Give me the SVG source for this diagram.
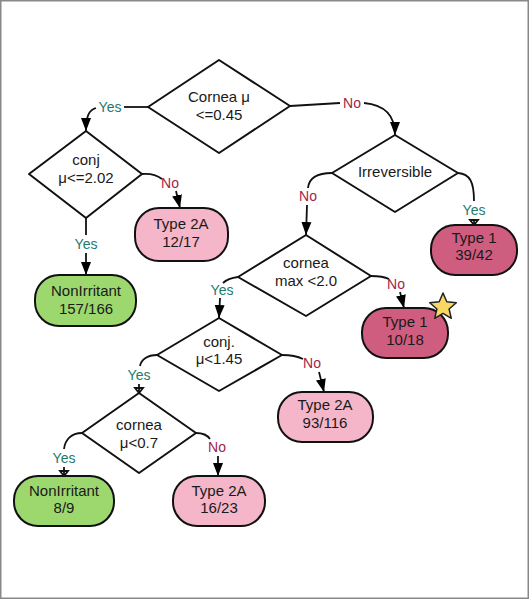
<svg xmlns="http://www.w3.org/2000/svg" width="530" height="600" viewBox="0 0 530 600">
<defs>
<marker id="arr" markerUnits="userSpaceOnUse" markerWidth="14" markerHeight="14" viewBox="0 0 14 14" refX="13" refY="7" orient="auto">
<path d="M0,2 L13,7 L0,12 Z" fill="#000"/>
</marker>
</defs>
<style>
.d{fill:#fff;stroke:#111;stroke-width:2;stroke-linejoin:round}
.b{stroke:#111;stroke-width:2}
.g{fill:#9dd86f}
.p{fill:#f4b6c8}
.r{fill:#cf5d7f}
.t{font-family:"Liberation Sans",Arial,sans-serif;font-size:15px;fill:#1a1a1a;text-anchor:middle;dominant-baseline:central}
.c path{fill:none;stroke:#111;stroke-width:1.8}
.y{font-family:"Liberation Sans",Arial,sans-serif;font-size:14px;fill:#1e7b6b;text-anchor:middle;dominant-baseline:central}
.n{font-family:"Liberation Sans",Arial,sans-serif;font-size:14px;fill:#a3234a;text-anchor:middle;dominant-baseline:central}
</style>
<rect x="0.75" y="0.75" width="527.5" height="597.5" fill="#fff" stroke="#888" stroke-width="1.5"/>
<g class="c" id="connectors">
<path d="M148,107 L124,107"/>
<path d="M96,108 C89,110 86,116 86,131" marker-end="url(#arr)"/>
<path d="M290,106 L340,103"/>
<path d="M364,103 C385,105 395,115 395,135" marker-end="url(#arr)"/>
<path d="M142,174 C152,173 158,176 162,179"/>
<path d="M176,191 L180,208" marker-end="url(#arr)"/>
<path d="M86,218 L86,235"/>
<path d="M86,253 L86,275" marker-end="url(#arr)"/>
<path d="M332,173 C318,173 309,178 308,188"/>
<path d="M307,205 L306,235" marker-end="url(#arr)"/>
<path d="M458,173 C470,174 474,182 474,201"/>
<path d="M474,219 L474,225"/>
<path d="M238,277 C230,278 225,281 223,283"/>
<path d="M220,298 L219,318" marker-end="url(#arr)"/>
<path d="M371,276 C380,276 385,277 389,279"/>
<path d="M400,292 L404,308" marker-end="url(#arr)"/>
<path d="M157,355 C147,355 141,360 140,366"/>
<path d="M139,384 L139,393"/>
<path d="M282,355 C293,355 299,357 303,359"/>
<path d="M319,372 L324,392" marker-end="url(#arr)"/>
<path d="M82,433 C71,433 65,440 64,449"/>
<path d="M64,467 L64,476"/>
<path d="M196,433 C204,433 208,436 210,439"/>
<path d="M218,456 L218,476" marker-end="url(#arr)"/>
<path d="M470,220 L478,220 L474,225 Z" fill="#000" stroke="none"/>
<path d="M135,388 L143,388 L139,393 Z" fill="#000" stroke="none"/>
<path d="M60,471 L68,471 L64,476 Z" fill="#000" stroke="none"/>
<text class="y" x="110" y="107">Yes</text>
<text class="n" x="352" y="103">No</text>
<text class="n" x="170" y="183">No</text>
<text class="y" x="86" y="244">Yes</text>
<text class="n" x="308" y="196">No</text>
<text class="y" x="474" y="210">Yes</text>
<text class="y" x="222" y="290">Yes</text>
<text class="n" x="396" y="284">No</text>
<text class="y" x="139" y="375">Yes</text>
<text class="n" x="312" y="363">No</text>
<text class="y" x="64" y="458">Yes</text>
<text class="n" x="217" y="447">No</text>
</g>
<g id="root">
<path class="d" d="M219,60 L290,106 L219,153 L148,107 Z"/>
<text class="t" x="219" y="96">Cornea μ</text>
<text class="t" x="219" y="114">&lt;=0.45</text>
</g>
<g id="conj1">
<path class="d" d="M86,131 L142,174 L86,218 L29,174 Z"/>
<text class="t" x="86" y="159">conj</text>
<text class="t" x="86" y="177">μ&lt;=2.02</text>
</g>
<g id="type2a-1">
<rect class="b p" x="135" y="208" width="93" height="53" rx="24"/>
<text class="t" x="181" y="223">Type 2A</text>
<text class="t" x="181" y="241">12/17</text>
</g>
<g id="nonirritant-1">
<rect class="b g" x="35" y="275" width="101" height="51" rx="24"/>
<text class="t" x="86" y="290">NonIrritant</text>
<text class="t" x="86" y="308">157/166</text>
</g>
<g id="irreversible">
<path class="d" d="M395,135 L458,173 L395,212 L332,173 Z"/>
<text class="t" x="395" y="171">Irreversible</text>
</g>
<g id="type1-1">
<rect class="b r" x="431" y="225" width="86" height="50" rx="24"/>
<text class="t" x="474" y="237">Type 1</text>
<text class="t" x="474" y="254">39/42</text>
</g>
<g id="cornea-max">
<path class="d" d="M306,235 L371,276 L306,316 L238,277 Z"/>
<text class="t" x="306" y="262">cornea</text>
<text class="t" x="306" y="280">max &lt;2.0</text>
</g>
<g id="type1-2">
<rect class="b r" x="362" y="308" width="86" height="50" rx="24"/>
<text class="t" x="405" y="321">Type 1</text>
<text class="t" x="405" y="339">10/18</text>
<path d="M443,293 L446.8,301.8 L456.3,302.7 L449.1,309 L451.3,318.3 L443,313.4 L434.7,318.3 L436.9,309 L429.7,302.7 L439.2,301.8 Z" fill="#f8d762" stroke="#222" stroke-width="1.5" stroke-linejoin="round"/>
</g>
<g id="conj2">
<path class="d" d="M219,318 L282,355 L219,391 L157,355 Z"/>
<text class="t" x="219" y="341">conj.</text>
<text class="t" x="219" y="358">μ&lt;1.45</text>
</g>
<g id="type2a-2">
<rect class="b p" x="278" y="392" width="95" height="50" rx="24"/>
<text class="t" x="325" y="404">Type 2A</text>
<text class="t" x="325" y="422">93/116</text>
</g>
<g id="cornea-mu">
<path class="d" d="M139,393 L196,433 L139,473 L82,433 Z"/>
<text class="t" x="139" y="424">cornea</text>
<text class="t" x="139" y="442">μ&lt;0.7</text>
</g>
<g id="nonirritant-2">
<rect class="b g" x="14" y="476" width="100" height="50" rx="24"/>
<text class="t" x="64" y="490">NonIrritant</text>
<text class="t" x="64" y="507">8/9</text>
</g>
<g id="type2a-3">
<rect class="b p" x="173" y="476" width="92" height="50" rx="24"/>
<text class="t" x="219" y="490">Type 2A</text>
<text class="t" x="219" y="507">16/23</text>
</g>
</svg>
